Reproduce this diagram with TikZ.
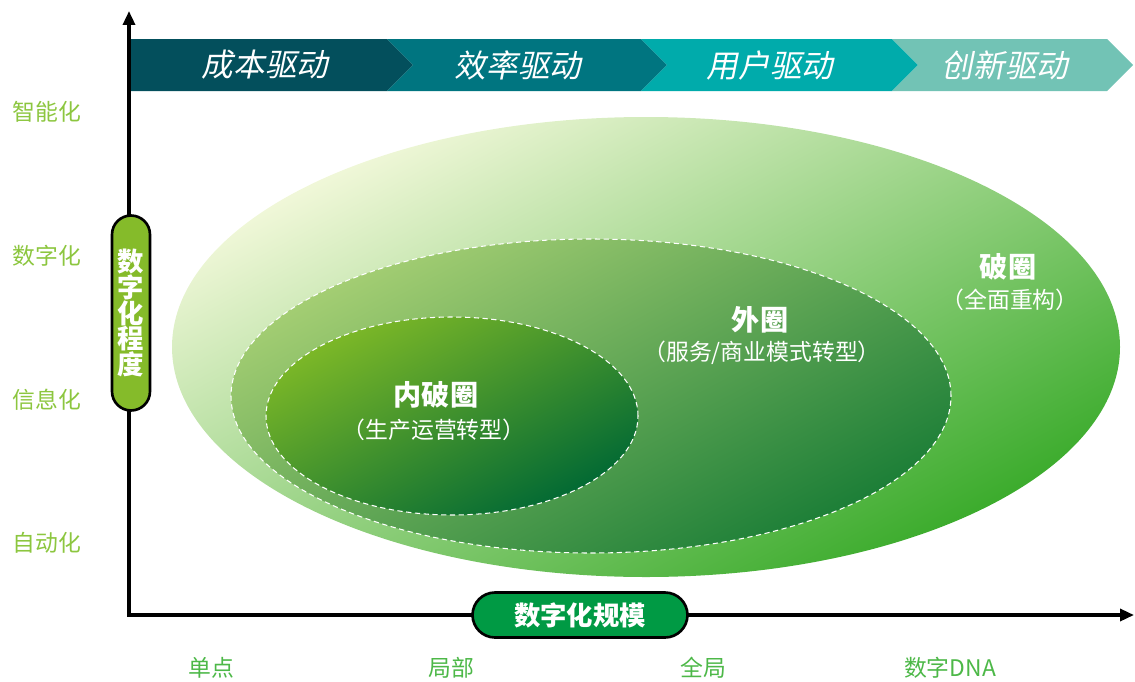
\documentclass[tikz,border=0pt]{standalone}
\usepackage{fontspec}
\setmainfont{Noto Sans CJK SC}
\newfontfamily\slantfont[FakeSlant=0.2]{Noto Sans CJK SC}
\usetikzlibrary{arrows.meta}
\definecolor{bannerA}{HTML}{034F5C}
\definecolor{bannerB}{HTML}{007580}
\definecolor{bannerC}{HTML}{00ABAB}
\definecolor{bannerD}{HTML}{72C3B5}
\definecolor{levelgreen}{HTML}{8CC63F}
\definecolor{scalegreen}{HTML}{4DB848}
\definecolor{depthfill}{HTML}{85BB2A}
\definecolor{scalefill}{HTML}{009A44}
\definecolor{outerlight}{HTML}{F4F9DC}
\definecolor{outermid}{HTML}{A2D26E}
\definecolor{outerdark}{HTML}{38AA29}
\definecolor{midlight}{HTML}{A6CF74}
\definecolor{midmid}{HTML}{5CA548}
\definecolor{middark}{HTML}{1A7D36}
\definecolor{innerlight}{HTML}{7EB927}
\definecolor{innermid}{HTML}{3A9330}
\definecolor{innerdark}{HTML}{006834}
\tikzset{
  axisline/.style={
    line width=1.9pt,
    {Triangle[length=0.28cm,width=0.24cm]}-{Triangle[length=0.28cm,width=0.24cm]}
  },
  bannertext/.style={text=white, font=\slantfont\fontsize{18}{18}\selectfont},
  levellabel/.style={text=levelgreen, font=\fontsize{13}{13}\selectfont},
  scalelabel/.style={text=scalegreen, font=\fontsize{13}{13}\selectfont},
  pill/.style={
    draw=black,
    line width=1.5pt,
    text=white,
    inner sep=0pt,
    font=\bfseries\fontsize{15}{14.6}\selectfont
  },
  ringshade/.style={
    top color=#1light, middle color=#1mid, bottom color=#1dark,
    shading angle=28
  },
  ringborder/.style={draw=white, line width=0.6pt, dash pattern=on 3pt off 2pt},
  ringtitle/.style={text=white, font=\bfseries\fontsize{16}{16}\selectfont},
  ringsub/.style={text=white, font=\fontsize{13}{13}\selectfont}
}
% #1 left x, #2 right x, #3 notch depth, #4 colour
\newcommand{\chevron}[4]{%
  \fill[#4] (#1,590) -- (#2,590) -- ++(26,26) -- (#2,642)
    -- (#1,642) -- ++(#3,-26) -- cycle;
}

\begin{document}
\begin{tikzpicture}[x=0.02cm,y=0.02cm]

  \def\W{1135}
  \def\H{681}
  \path[use as bounding box] (0,0) rectangle (\W,\H);

  % rings<<<
  \shade[ringshade=outer]
    (646,334) ellipse [x radius=474, y radius=230];
  \shadedraw[ringborder, ringshade=mid]
    (591,285) ellipse [x radius=360, y radius=157];
  \shadedraw[ringborder, ringshade=inner]
    (452,265) ellipse [x radius=186, y radius=99];

  \node[ringtitle] (outerT) at (1008,414) {破圈};
  \node[ringsub] (outerS) at (1010,381) {（全面重构）};
  \node[ringtitle] (midT) at (760,361) {外圈};
  \node[ringsub] (midS) at (762,328) {（服务/商业模式转型）};
  \node[ringtitle] (innerT) at (436,286) {内破圈};
  \node[ringsub] (innerS) at (434,251) {（生产运营转型）};
  % >>>

  % banner<<<
  \chevron{131}{387}{0}{bannerA}
  \chevron{387}{641}{26}{bannerB}
  \chevron{641}{892}{26}{bannerC}
  \chevron{892}{1107}{26}{bannerD}

  \node[bannertext] (cost) at (265,616) {成本驱动};
  \node[bannertext] (eff) at (518,616) {效率驱动};
  \node[bannertext] (user) at (770,616) {用户驱动};
  \node[bannertext] (innov) at (1005,616) {创新驱动};
  % >>>

  % axes<<<
  \coordinate (O) at (129,66);
  \coordinate (ytip) at (129,670);
  \coordinate (xtip) at (1134,66);
  \draw[axisline] (ytip) -- (O) -- (xtip);

  \node[pill, fill=depthfill, align=center,
        minimum width=0.76cm, minimum height=3.9cm,
        rounded corners=0.38cm]
    (depthpill) at (131,368) {数\\字\\化\\程\\度};
  \node[pill, fill=scalefill,
        minimum width=4.3cm, minimum height=0.9cm,
        rounded corners=0.45cm]
    (scalepill) at (580,66) {数字化规模};

  \node[levellabel] (smart) at (47,569) {智能化};
  \node[levellabel] (digital) at (47,425) {数字化};
  \node[levellabel] (info) at (47,281) {信息化};
  \node[levellabel] (auto) at (47,138) {自动化};

  \node[scalelabel] (point) at (211,13) {单点};
  \node[scalelabel] (local) at (451,13) {局部};
  \node[scalelabel] (global) at (703,13) {全局};
  \node[scalelabel] (dna) at (950,13) {数字DNA};
  % >>>

\end{tikzpicture}
\end{document}
